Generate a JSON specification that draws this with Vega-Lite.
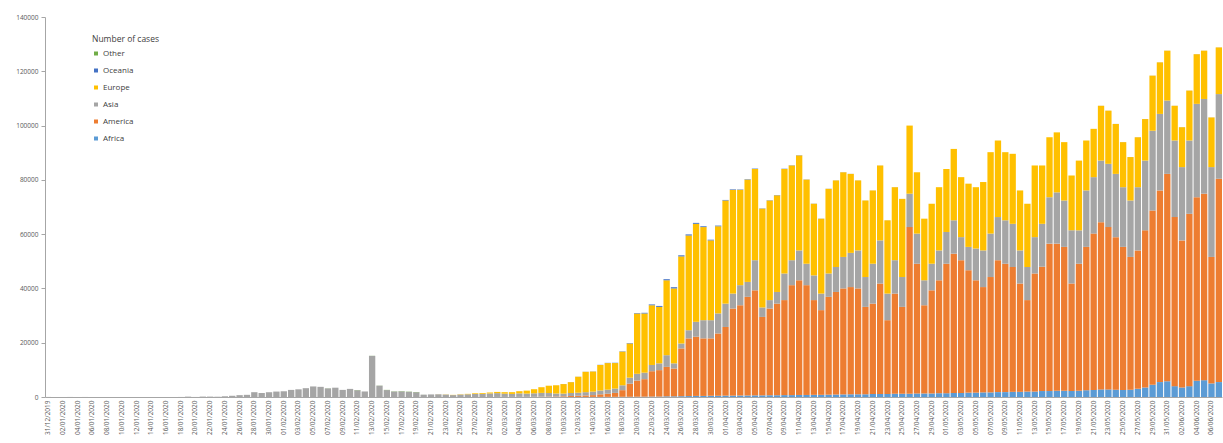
{
  "$schema": "https://vega.github.io/schema/vega-lite/v6.json",
  "width": 1177,
  "height": 380,
  "autosize": "none",
  "padding": {"left": 45, "top": 17, "right": 1, "bottom": 46},
  "background": "white",
  "config": {"view": {"stroke": null}, "font": "Open Sans"},
  "data": {"values": [
    {"date":"2019-12-31","Africa":0,"America":0,"Asia":27,"Europe":0,"Oceania":0,"Other":0},
    {"date":"2020-01-01","Africa":0,"America":0,"Asia":0,"Europe":0,"Oceania":0,"Other":0},
    {"date":"2020-01-02","Africa":0,"America":0,"Asia":0,"Europe":0,"Oceania":0,"Other":0},
    {"date":"2020-01-03","Africa":0,"America":0,"Asia":17,"Europe":0,"Oceania":0,"Other":0},
    {"date":"2020-01-04","Africa":0,"America":0,"Asia":0,"Europe":0,"Oceania":0,"Other":0},
    {"date":"2020-01-05","Africa":0,"America":0,"Asia":15,"Europe":0,"Oceania":0,"Other":0},
    {"date":"2020-01-06","Africa":0,"America":0,"Asia":0,"Europe":0,"Oceania":0,"Other":0},
    {"date":"2020-01-07","Africa":0,"America":0,"Asia":0,"Europe":0,"Oceania":0,"Other":0},
    {"date":"2020-01-08","Africa":0,"America":0,"Asia":0,"Europe":0,"Oceania":0,"Other":0},
    {"date":"2020-01-09","Africa":0,"America":0,"Asia":0,"Europe":0,"Oceania":0,"Other":0},
    {"date":"2020-01-10","Africa":0,"America":0,"Asia":0,"Europe":0,"Oceania":0,"Other":0},
    {"date":"2020-01-11","Africa":0,"America":0,"Asia":0,"Europe":0,"Oceania":0,"Other":0},
    {"date":"2020-01-12","Africa":0,"America":0,"Asia":0,"Europe":0,"Oceania":0,"Other":0},
    {"date":"2020-01-13","Africa":0,"America":0,"Asia":1,"Europe":0,"Oceania":0,"Other":0},
    {"date":"2020-01-14","Africa":0,"America":0,"Asia":0,"Europe":0,"Oceania":0,"Other":0},
    {"date":"2020-01-15","Africa":0,"America":0,"Asia":1,"Europe":0,"Oceania":0,"Other":0},
    {"date":"2020-01-16","Africa":0,"America":0,"Asia":1,"Europe":0,"Oceania":0,"Other":0},
    {"date":"2020-01-17","Africa":0,"America":0,"Asia":4,"Europe":0,"Oceania":0,"Other":0},
    {"date":"2020-01-18","Africa":0,"America":0,"Asia":17,"Europe":0,"Oceania":0,"Other":0},
    {"date":"2020-01-19","Africa":0,"America":0,"Asia":136,"Europe":0,"Oceania":0,"Other":0},
    {"date":"2020-01-20","Africa":0,"America":0,"Asia":20,"Europe":0,"Oceania":0,"Other":0},
    {"date":"2020-01-21","Africa":0,"America":1,"Asia":153,"Europe":0,"Oceania":0,"Other":0},
    {"date":"2020-01-22","Africa":0,"America":0,"Asia":142,"Europe":0,"Oceania":0,"Other":0},
    {"date":"2020-01-23","Africa":0,"America":0,"Asia":100,"Europe":0,"Oceania":0,"Other":0},
    {"date":"2020-01-24","Africa":0,"America":1,"Asia":264,"Europe":2,"Oceania":0,"Other":0},
    {"date":"2020-01-25","Africa":0,"America":0,"Asia":450,"Europe":1,"Oceania":3,"Other":0},
    {"date":"2020-01-26","Africa":0,"America":2,"Asia":680,"Europe":0,"Oceania":1,"Other":0},
    {"date":"2020-01-27","Africa":0,"America":0,"Asia":800,"Europe":0,"Oceania":0,"Other":0},
    {"date":"2020-01-28","Africa":0,"America":0,"Asia":1770,"Europe":4,"Oceania":1,"Other":0},
    {"date":"2020-01-29","Africa":0,"America":0,"Asia":1480,"Europe":0,"Oceania":0,"Other":0},
    {"date":"2020-01-30","Africa":0,"America":0,"Asia":1760,"Europe":3,"Oceania":2,"Other":0},
    {"date":"2020-01-31","Africa":0,"America":1,"Asia":2000,"Europe":6,"Oceania":0,"Other":0},
    {"date":"2020-02-01","Africa":0,"America":1,"Asia":2110,"Europe":3,"Oceania":0,"Other":0},
    {"date":"2020-02-02","Africa":0,"America":2,"Asia":2610,"Europe":3,"Oceania":0,"Other":0},
    {"date":"2020-02-03","Africa":0,"America":3,"Asia":2830,"Europe":1,"Oceania":0,"Other":0},
    {"date":"2020-02-04","Africa":0,"America":0,"Asia":3250,"Europe":1,"Oceania":0,"Other":0},
    {"date":"2020-02-05","Africa":0,"America":0,"Asia":3890,"Europe":1,"Oceania":0,"Other":10},
    {"date":"2020-02-06","Africa":0,"America":1,"Asia":3740,"Europe":4,"Oceania":0,"Other":10},
    {"date":"2020-02-07","Africa":0,"America":0,"Asia":3180,"Europe":0,"Oceania":0,"Other":41},
    {"date":"2020-02-08","Africa":0,"America":0,"Asia":3430,"Europe":5,"Oceania":0,"Other":3},
    {"date":"2020-02-09","Africa":0,"America":0,"Asia":2620,"Europe":0,"Oceania":0,"Other":6},
    {"date":"2020-02-10","Africa":0,"America":0,"Asia":2990,"Europe":1,"Oceania":0,"Other":6},
    {"date":"2020-02-11","Africa":0,"America":1,"Asia":2500,"Europe":0,"Oceania":0,"Other":65},
    {"date":"2020-02-12","Africa":0,"America":0,"Asia":2040,"Europe":0,"Oceania":0,"Other":0},
    {"date":"2020-02-13","Africa":0,"America":1,"Asia":15150,"Europe":1,"Oceania":0,"Other":39},
    {"date":"2020-02-14","Africa":0,"America":0,"Asia":4170,"Europe":0,"Oceania":0,"Other":44},
    {"date":"2020-02-15","Africa":0,"America":0,"Asia":2550,"Europe":1,"Oceania":0,"Other":67},
    {"date":"2020-02-16","Africa":0,"America":2,"Asia":2020,"Europe":2,"Oceania":0,"Other":70},
    {"date":"2020-02-17","Africa":0,"America":0,"Asia":2070,"Europe":1,"Oceania":0,"Other":99},
    {"date":"2020-02-18","Africa":0,"America":0,"Asia":1900,"Europe":1,"Oceania":0,"Other":88},
    {"date":"2020-02-19","Africa":0,"America":0,"Asia":1760,"Europe":0,"Oceania":0,"Other":79},
    {"date":"2020-02-20","Africa":0,"America":0,"Asia":860,"Europe":0,"Oceania":0,"Other":13},
    {"date":"2020-02-21","Africa":0,"America":1,"Asia":950,"Europe":4,"Oceania":0,"Other":0},
    {"date":"2020-02-22","Africa":0,"America":0,"Asia":1000,"Europe":20,"Oceania":0,"Other":0},
    {"date":"2020-02-23","Africa":0,"America":1,"Asia":900,"Europe":60,"Oceania":0,"Other":0},
    {"date":"2020-02-24","Africa":0,"America":2,"Asia":700,"Europe":80,"Oceania":0,"Other":0},
    {"date":"2020-02-25","Africa":1,"America":1,"Asia":900,"Europe":110,"Oceania":0,"Other":0},
    {"date":"2020-02-26","Africa":0,"America":3,"Asia":1000,"Europe":150,"Oceania":0,"Other":0},
    {"date":"2020-02-27","Africa":0,"America":5,"Asia":1100,"Europe":250,"Oceania":0,"Other":0},
    {"date":"2020-02-28","Africa":1,"America":8,"Asia":1150,"Europe":300,"Oceania":0,"Other":0},
    {"date":"2020-02-29","Africa":1,"America":10,"Asia":1300,"Europe":350,"Oceania":0,"Other":0},
    {"date":"2020-03-01","Africa":1,"America":20,"Asia":1400,"Europe":450,"Oceania":2,"Other":0},
    {"date":"2020-03-02","Africa":2,"America":25,"Asia":1200,"Europe":550,"Oceania":2,"Other":0},
    {"date":"2020-03-03","Africa":3,"America":30,"Asia":1100,"Europe":650,"Oceania":3,"Other":0},
    {"date":"2020-03-04","Africa":3,"America":40,"Asia":1300,"Europe":800,"Oceania":5,"Other":0},
    {"date":"2020-03-05","Africa":5,"America":50,"Asia":1200,"Europe":1100,"Oceania":5,"Other":0},
    {"date":"2020-03-06","Africa":8,"America":60,"Asia":1300,"Europe":1500,"Oceania":10,"Other":0},
    {"date":"2020-03-07","Africa":10,"America":100,"Asia":1400,"Europe":2100,"Oceania":10,"Other":0},
    {"date":"2020-03-08","Africa":10,"America":150,"Asia":1300,"Europe":2700,"Oceania":10,"Other":0},
    {"date":"2020-03-09","Africa":15,"America":200,"Asia":1100,"Europe":3000,"Oceania":15,"Other":0},
    {"date":"2020-03-10","Africa":15,"America":250,"Asia":1000,"Europe":3500,"Oceania":20,"Other":0},
    {"date":"2020-03-11","Africa":20,"America":350,"Asia":1100,"Europe":4000,"Oceania":25,"Other":0},
    {"date":"2020-03-12","Africa":20,"America":450,"Asia":1100,"Europe":5900,"Oceania":30,"Other":0},
    {"date":"2020-03-13","Africa":30,"America":550,"Asia":1200,"Europe":7500,"Oceania":40,"Other":0},
    {"date":"2020-03-14","Africa":40,"America":650,"Asia":1300,"Europe":7400,"Oceania":50,"Other":0},
    {"date":"2020-03-15","Africa":40,"America":950,"Asia":1400,"Europe":9400,"Oceania":60,"Other":0},
    {"date":"2020-03-16","Africa":50,"America":1150,"Asia":1500,"Europe":9800,"Oceania":80,"Other":0},
    {"date":"2020-03-17","Africa":60,"America":1450,"Asia":1600,"Europe":9400,"Oceania":100,"Other":0},
    {"date":"2020-03-18","Africa":70,"America":2450,"Asia":1800,"Europe":12400,"Oceania":120,"Other":0},
    {"date":"2020-03-19","Africa":80,"America":4850,"Asia":2200,"Europe":12600,"Oceania":150,"Other":0},
    {"date":"2020-03-20","Africa":100,"America":5950,"Asia":2500,"Europe":22200,"Oceania":180,"Other":0},
    {"date":"2020-03-21","Africa":120,"America":6450,"Asia":2400,"Europe":21800,"Oceania":250,"Other":0},
    {"date":"2020-03-22","Africa":150,"America":9350,"Asia":2300,"Europe":22000,"Oceania":300,"Other":0},
    {"date":"2020-03-23","Africa":150,"America":9750,"Asia":2500,"Europe":20800,"Oceania":350,"Other":0},
    {"date":"2020-03-24","Africa":250,"America":10850,"Asia":4300,"Europe":27600,"Oceania":400,"Other":0},
    {"date":"2020-03-25","Africa":250,"America":10250,"Asia":1900,"Europe":27600,"Oceania":450,"Other":0},
    {"date":"2020-03-26","Africa":300,"America":17600,"Asia":1800,"Europe":32100,"Oceania":400,"Other":0},
    {"date":"2020-03-27","Africa":350,"America":21250,"Asia":3000,"Europe":34900,"Oceania":400,"Other":0},
    {"date":"2020-03-28","Africa":400,"America":21800,"Asia":5500,"Europe":36100,"Oceania":350,"Other":0},
    {"date":"2020-03-29","Africa":400,"America":21200,"Asia":6700,"Europe":34300,"Oceania":300,"Other":0},
    {"date":"2020-03-30","Africa":450,"America":21150,"Asia":6700,"Europe":29400,"Oceania":250,"Other":0},
    {"date":"2020-03-31","Africa":450,"America":22950,"Asia":7400,"Europe":32100,"Oceania":250,"Other":0},
    {"date":"2020-04-01","Africa":500,"America":25300,"Asia":8600,"Europe":38000,"Oceania":200,"Other":0},
    {"date":"2020-04-02","Africa":500,"America":32100,"Asia":5500,"Europe":38200,"Oceania":200,"Other":0},
    {"date":"2020-04-03","Africa":550,"America":33250,"Asia":7400,"Europe":35100,"Oceania":150,"Other":0},
    {"date":"2020-04-04","Africa":550,"America":36350,"Asia":5500,"Europe":37700,"Oceania":150,"Other":0},
    {"date":"2020-04-05","Africa":600,"America":38700,"Asia":11100,"Europe":33600,"Oceania":150,"Other":0},
    {"date":"2020-04-06","Africa":600,"America":28900,"Asia":3500,"Europe":36400,"Oceania":100,"Other":0},
    {"date":"2020-04-07","Africa":650,"America":31950,"Asia":3100,"Europe":36700,"Oceania":100,"Other":0},
    {"date":"2020-04-08","Africa":650,"America":33750,"Asia":4300,"Europe":35600,"Oceania":100,"Other":0},
    {"date":"2020-04-09","Africa":700,"America":35000,"Asia":9800,"Europe":38500,"Oceania":100,"Other":0},
    {"date":"2020-04-10","Africa":700,"America":40500,"Asia":9200,"Europe":34900,"Oceania":80,"Other":0},
    {"date":"2020-04-11","Africa":750,"America":42250,"Asia":11000,"Europe":35000,"Oceania":80,"Other":0},
    {"date":"2020-04-12","Africa":750,"America":40450,"Asia":7900,"Europe":31000,"Oceania":60,"Other":0},
    {"date":"2020-04-13","Africa":800,"America":34900,"Asia":9100,"Europe":26400,"Oceania":50,"Other":0},
    {"date":"2020-04-14","Africa":800,"America":31200,"Asia":6100,"Europe":27600,"Oceania":40,"Other":0},
    {"date":"2020-04-15","Africa":850,"America":36050,"Asia":8600,"Europe":31200,"Oceania":40,"Other":0},
    {"date":"2020-04-16","Africa":900,"America":37800,"Asia":9200,"Europe":31900,"Oceania":30,"Other":0},
    {"date":"2020-04-17","Africa":950,"America":39050,"Asia":11600,"Europe":31200,"Oceania":30,"Other":0},
    {"date":"2020-04-18","Africa":1000,"America":39500,"Asia":12600,"Europe":29100,"Oceania":25,"Other":0},
    {"date":"2020-04-19","Africa":1000,"America":39000,"Asia":14000,"Europe":25800,"Oceania":20,"Other":0},
    {"date":"2020-04-20","Africa":1000,"America":32200,"Asia":11000,"Europe":28200,"Oceania":20,"Other":0},
    {"date":"2020-04-21","Africa":1100,"America":33300,"Asia":14700,"Europe":27000,"Oceania":15,"Other":0},
    {"date":"2020-04-22","Africa":1100,"America":40700,"Asia":15900,"Europe":27600,"Oceania":15,"Other":0},
    {"date":"2020-04-23","Africa":1100,"America":27200,"Asia":9800,"Europe":27000,"Oceania":15,"Other":0},
    {"date":"2020-04-24","Africa":1200,"America":36900,"Asia":12300,"Europe":26900,"Oceania":15,"Other":0},
    {"date":"2020-04-25","Africa":1200,"America":32000,"Asia":11000,"Europe":28800,"Oceania":10,"Other":0},
    {"date":"2020-04-26","Africa":1200,"America":61400,"Asia":12300,"Europe":25100,"Oceania":10,"Other":0},
    {"date":"2020-04-27","Africa":1300,"America":47800,"Asia":11100,"Europe":22600,"Oceania":10,"Other":0},
    {"date":"2020-04-28","Africa":1300,"America":32500,"Asia":9200,"Europe":22700,"Oceania":10,"Other":0},
    {"date":"2020-04-29","Africa":1300,"America":38000,"Asia":9800,"Europe":22100,"Oceania":10,"Other":0},
    {"date":"2020-04-30","Africa":1400,"America":41600,"Asia":11000,"Europe":23300,"Oceania":10,"Other":0},
    {"date":"2020-05-01","Africa":1400,"America":47700,"Asia":11700,"Europe":23200,"Oceania":10,"Other":0},
    {"date":"2020-05-02","Africa":1500,"America":51300,"Asia":12300,"Europe":26300,"Oceania":10,"Other":0},
    {"date":"2020-05-03","Africa":1500,"America":48900,"Asia":8500,"Europe":22100,"Oceania":10,"Other":0},
    {"date":"2020-05-04","Africa":1600,"America":45100,"Asia":8600,"Europe":23300,"Oceania":5,"Other":0},
    {"date":"2020-05-05","Africa":1600,"America":41400,"Asia":11700,"Europe":22600,"Oceania":5,"Other":0},
    {"date":"2020-05-06","Africa":1700,"America":38800,"Asia":13500,"Europe":25200,"Oceania":5,"Other":0},
    {"date":"2020-05-07","Africa":1700,"America":42500,"Asia":16000,"Europe":30000,"Oceania":5,"Other":0},
    {"date":"2020-05-08","Africa":1800,"America":48600,"Asia":15900,"Europe":28200,"Oceania":5,"Other":0},
    {"date":"2020-05-09","Africa":1800,"America":47300,"Asia":16000,"Europe":25100,"Oceania":5,"Other":0},
    {"date":"2020-05-10","Africa":1900,"America":46000,"Asia":15900,"Europe":25800,"Oceania":5,"Other":0},
    {"date":"2020-05-11","Africa":1900,"America":39900,"Asia":12200,"Europe":22100,"Oceania":5,"Other":0},
    {"date":"2020-05-12","Africa":2000,"America":33700,"Asia":12200,"Europe":23300,"Oceania":5,"Other":0},
    {"date":"2020-05-13","Africa":2000,"America":43500,"Asia":13400,"Europe":26400,"Oceania":5,"Other":0},
    {"date":"2020-05-14","Africa":2200,"America":45800,"Asia":15800,"Europe":21500,"Oceania":10,"Other":0},
    {"date":"2020-05-15","Africa":2200,"America":54300,"Asia":17100,"Europe":22100,"Oceania":10,"Other":0},
    {"date":"2020-05-16","Africa":2300,"America":54200,"Asia":18900,"Europe":22100,"Oceania":10,"Other":0},
    {"date":"2020-05-17","Africa":2300,"America":53000,"Asia":17100,"Europe":21500,"Oceania":10,"Other":0},
    {"date":"2020-05-18","Africa":2200,"America":39600,"Asia":19600,"Europe":20200,"Oceania":10,"Other":0},
    {"date":"2020-05-19","Africa":2300,"America":46800,"Asia":12300,"Europe":25700,"Oceania":10,"Other":0},
    {"date":"2020-05-20","Africa":2500,"America":52800,"Asia":20800,"Europe":18400,"Oceania":10,"Other":0},
    {"date":"2020-05-21","Africa":2600,"America":57600,"Asia":20800,"Europe":17800,"Oceania":10,"Other":0},
    {"date":"2020-05-22","Africa":2800,"America":61600,"Asia":22700,"Europe":20200,"Oceania":15,"Other":0},
    {"date":"2020-05-23","Africa":2800,"America":59800,"Asia":23300,"Europe":19600,"Oceania":15,"Other":0},
    {"date":"2020-05-24","Africa":2700,"America":56200,"Asia":23300,"Europe":18400,"Oceania":15,"Other":0},
    {"date":"2020-05-25","Africa":2600,"America":52700,"Asia":22000,"Europe":16600,"Oceania":15,"Other":0},
    {"date":"2020-05-26","Africa":2700,"America":48900,"Asia":20800,"Europe":16000,"Oceania":15,"Other":0},
    {"date":"2020-05-27","Africa":3000,"America":51000,"Asia":23300,"Europe":18400,"Oceania":15,"Other":0},
    {"date":"2020-05-28","Africa":3500,"America":57900,"Asia":25700,"Europe":15300,"Oceania":15,"Other":0},
    {"date":"2020-05-29","Africa":4500,"America":64200,"Asia":29400,"Europe":20300,"Oceania":20,"Other":0},
    {"date":"2020-05-30","Africa":5500,"America":70600,"Asia":28200,"Europe":19000,"Oceania":20,"Other":0},
    {"date":"2020-05-31","Africa":5800,"America":76400,"Asia":27000,"Europe":18400,"Oceania":20,"Other":0},
    {"date":"2020-06-01","Africa":4000,"America":62300,"Asia":28200,"Europe":12800,"Oceania":20,"Other":0},
    {"date":"2020-06-02","Africa":3500,"America":54200,"Asia":27000,"Europe":14700,"Oceania":20,"Other":0},
    {"date":"2020-06-03","Africa":4000,"America":63500,"Asia":27000,"Europe":18400,"Oceania":20,"Other":0},
    {"date":"2020-06-04","Africa":6000,"America":67600,"Asia":34400,"Europe":18300,"Oceania":20,"Other":0},
    {"date":"2020-06-05","Africa":6200,"America":68700,"Asia":34900,"Europe":17800,"Oceania":20,"Other":0},
    {"date":"2020-06-06","Africa":5000,"America":46600,"Asia":33100,"Europe":18300,"Oceania":20,"Other":0},
    {"date":"2020-06-07","Africa":5500,"America":74900,"Asia":31200,"Europe":17200,"Oceania":20,"Other":0}
  ]},
  "transform": [
    {"fold": ["Africa", "America", "Asia", "Europe", "Oceania", "Other"], "as": ["region", "cases"]}
  ],
  "mark": {"type": "bar"},
  "encoding": {
    "x": {
      "field": "date",
      "type": "ordinal",
      "scale": {"paddingInner": 0.14, "paddingOuter": 0},
      "axis": {
        "title": null,
        "labelAngle": -90,
        "labelFontSize": 6.5,
        "labelColor": "#595959",
        "labelPadding": 3,
        "labelExpr": "round((toDate(datum.value) - toDate('2019-12-31')) / 86400000) % 2 == 0 ? utcFormat(toDate(datum.value), '%d/%m/%Y') : ''",
        "ticks": false,
        "domainColor": "#a6a6a6"
      }
    },
    "y": {
      "field": "cases",
      "type": "quantitative",
      "aggregate": "sum",
      "scale": {"domain": [0, 140000]},
      "axis": {
        "title": null,
        "values": [0, 20000, 40000, 60000, 80000, 100000, 120000, 140000],
        "format": "d",
        "grid": false,
        "labelFontSize": 6.5,
        "labelColor": "#595959",
        "labelPadding": 3,
        "tickSize": 4,
        "tickColor": "#a6a6a6",
        "domainColor": "#a6a6a6"
      }
    },
    "color": {
      "field": "region",
      "type": "nominal",
      "scale": {
        "domain": ["Other", "Oceania", "Europe", "Asia", "America", "Africa"],
        "range": ["#70AD47", "#4472C4", "#FFC000", "#A5A5A5", "#ED7D31", "#5B9BD5"]
      },
      "legend": {
        "title": "Number of cases",
        "orient": "none",
        "legendX": 47,
        "legendY": 18,
        "titleFontSize": 8.5,
        "titleFontWeight": "normal",
        "titleColor": "#404040",
        "titlePadding": 6,
        "labelFontSize": 8,
        "labelColor": "#404040",
        "symbolType": "square",
        "symbolSize": 16,
        "symbolStrokeWidth": 0,
        "rowPadding": 9,
        "labelOffset": 3,
        "padding": 0
      }
    },
    "order": {"field": "region", "type": "ordinal", "sort": "ascending"}
  }
}
